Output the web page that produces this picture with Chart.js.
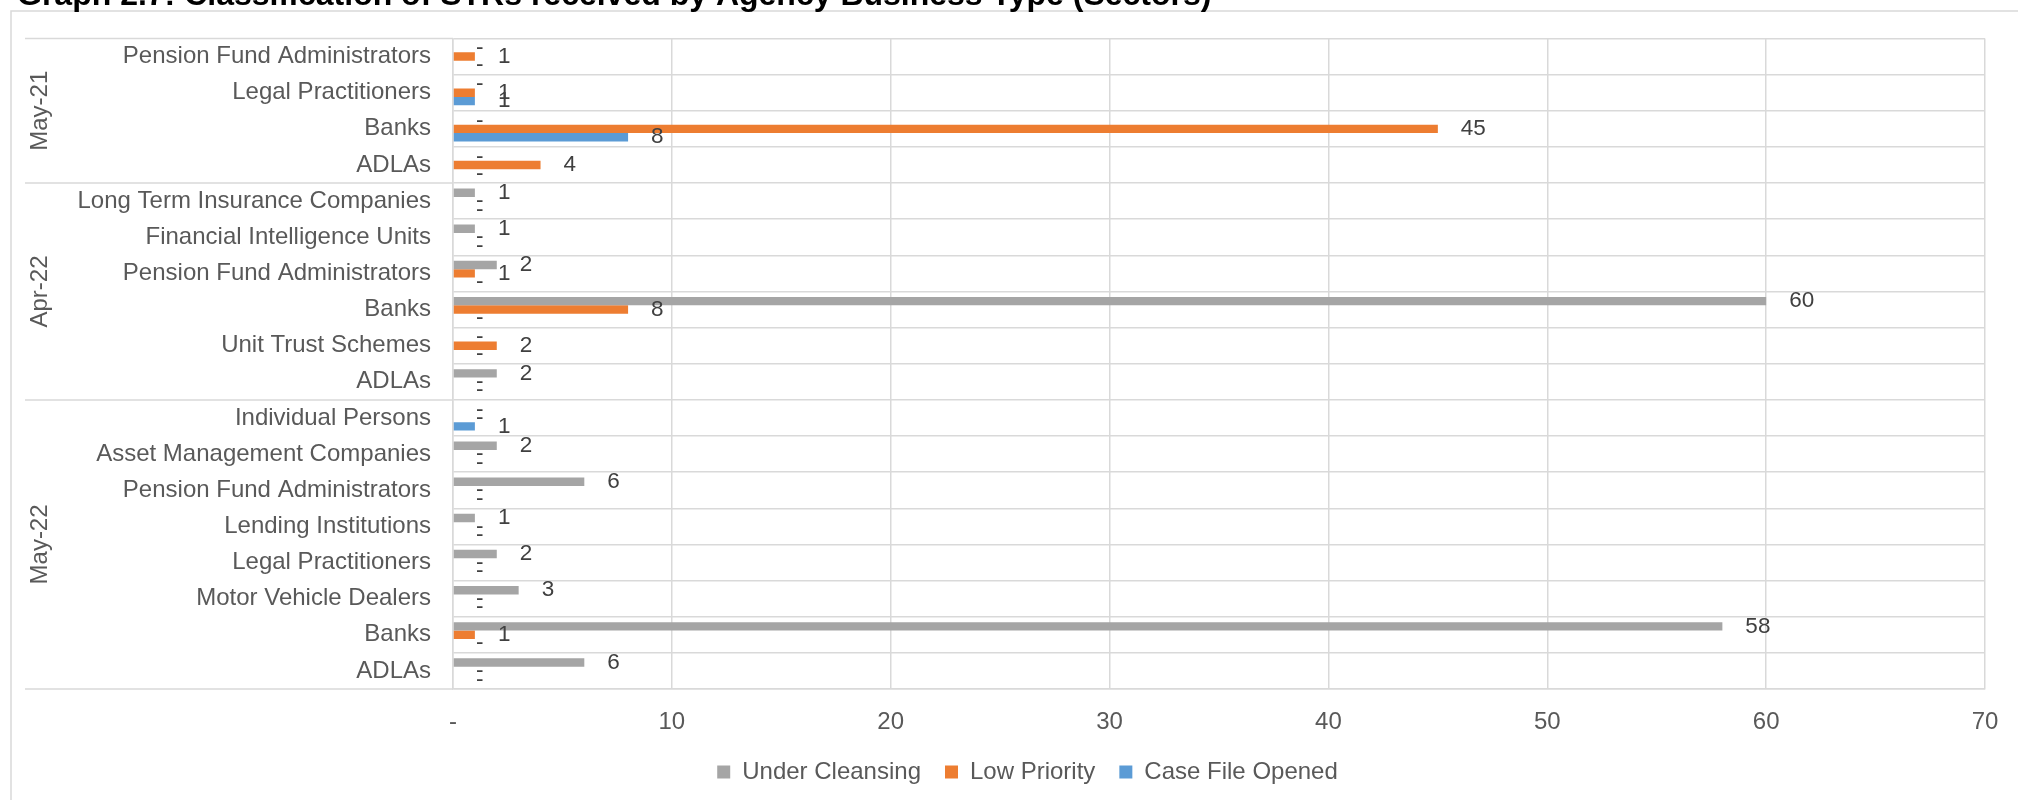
<!DOCTYPE html>
<html>
<head>
<meta charset="utf-8">
<script src="https://cdn.jsdelivr.net/npm/chart.js@4/dist/chart.umd.min.js"></script>
<style>
  html, body { margin: 0; padding: 0; background: #ffffff; overflow: hidden; }
  #wrap { position: relative; width: 2018px; height: 800px; }
</style>
</head>
<body>
<div id="wrap"><canvas id="strChart" width="2018" height="800"></canvas></div>
<script>
// Reporting periods (outer category level) and how many sectors each one holds, top to bottom
const periods = ['May-21', 'Apr-22', 'May-22'];
const periodSizes = [4, 6, 8];

// Sectors (inner category level), top to bottom
const sectors = [
  'Pension Fund Administrators', 'Legal Practitioners', 'Banks', 'ADLAs',
  'Long Term Insurance Companies', 'Financial Intelligence Units', 'Pension Fund Administrators',
  'Banks', 'Unit Trust Schemes', 'ADLAs',
  'Individual Persons', 'Asset Management Companies', 'Pension Fund Administrators',
  'Lending Institutions', 'Legal Practitioners', 'Motor Vehicle Dealers', 'Banks', 'ADLAs'
];

// STR counts per classification
const underCleansing = [0, 0, 0, 0,   1, 1, 2, 60, 0, 2,   0, 2, 6, 1, 2, 3, 58, 6];
const lowPriority    = [1, 1, 45, 4,  0, 0, 1, 8, 2, 0,    0, 0, 0, 0, 0, 0, 1, 0];
const caseFileOpened = [0, 1, 8, 0,   0, 0, 0, 0, 0, 0,    1, 0, 0, 0, 0, 0, 0, 0];

// Value axis tick labels (zero shown as a dash)
const xTickLabels = ['-', '10', '20', '30', '40', '50', '60', '70'];

const chartTitle = 'Graph 2.7: Classification of STRs received by Agency Business Type (Sectors)';

const FONT = '"Liberation Sans", Arial, sans-serif';
const GRID = '#D9D9D9';
const TEXT = '#595959';

Chart.defaults.font.family = FONT;

// Frame, title, period labels with their separators, and value labels beside each bar
const decorPlugin = {
  id: 'decor',
  beforeDraw(chart) {
    const ctx = chart.ctx;
    ctx.save();
    ctx.strokeStyle = GRID;
    ctx.lineWidth = 1.5;
    ctx.beginPath();
    ctx.moveTo(11, 800);
    ctx.lineTo(11, 11);
    ctx.lineTo(2018, 11);
    ctx.stroke();

    ctx.fillStyle = '#000000';
    ctx.font = 'bold 32px ' + FONT;
    ctx.textAlign = 'left';
    ctx.textBaseline = 'alphabetic';
    ctx.fillText(chartTitle, 17, 5);
    ctx.restore();
  },
  afterDraw(chart) {
    const ctx = chart.ctx;
    const area = chart.chartArea;
    const rowH = (area.bottom - area.top) / sectors.length;
    ctx.save();
    ctx.strokeStyle = GRID;
    ctx.lineWidth = 1.5;
    let row = 0;
    const bounds = [0];
    periodSizes.forEach(n => { row += n; bounds.push(row); });
    bounds.forEach(b => {
      const y = area.top + b * rowH;
      ctx.beginPath();
      ctx.moveTo(25, y);
      ctx.lineTo(area.left, y);
      ctx.stroke();
    });

    ctx.fillStyle = TEXT;
    ctx.font = '24px ' + FONT;
    ctx.textAlign = 'center';
    ctx.textBaseline = 'middle';
    periods.forEach((p, i) => {
      const yMid = area.top + (bounds[i] + bounds[i + 1]) / 2 * rowH;
      ctx.save();
      ctx.translate(40, yMid);
      ctx.rotate(-Math.PI / 2);
      ctx.fillText(p, 0, 0);
      ctx.restore();
    });
    ctx.restore();
  },
  afterDatasetsDraw(chart) {
    const ctx = chart.ctx;
    ctx.save();
    ctx.fillStyle = '#404040';
    ctx.font = '22.5px ' + FONT;
    ctx.textAlign = 'left';
    ctx.textBaseline = 'middle';
    chart.data.datasets.forEach((ds, di) => {
      const meta = chart.getDatasetMeta(di);
      meta.data.forEach((el, i) => {
        const v = ds.data[i];
        const txt = v === 0 ? '-' : String(v);
        ctx.fillText(txt, el.x + 23, el.y);
      });
    });
    ctx.restore();
  }
};

new Chart(document.getElementById('strChart'), {
  type: 'bar',
  data: {
    labels: sectors,
    datasets: [
      { label: 'Under Cleansing', data: underCleansing, backgroundColor: '#A5A5A5' },
      { label: 'Low Priority', data: lowPriority, backgroundColor: '#ED7D31' },
      { label: 'Case File Opened', data: caseFileOpened, backgroundColor: '#5B9BD5' }
    ]
  },
  options: {
    indexAxis: 'y',
    responsive: false,
    animation: false,
    devicePixelRatio: 1,
    categoryPercentage: 0.7,
    barPercentage: 1,
    layout: { padding: { top: 38.5, left: 70, right: 33, bottom: 6 } },
    scales: {
      x: {
        type: 'linear',
        min: 0,
        max: 70,
        ticks: {
          stepSize: 10,
          font: { size: 24 },
          color: TEXT,
          padding: 19,
          callback: (value, index) => xTickLabels[index]
        },
        grid: { color: GRID, lineWidth: 1.5, drawTicks: false },
        border: { color: GRID, width: 1.5 },
        afterFit: scale => { scale.height = 47; }
      },
      y: {
        ticks: { autoSkip: false, font: { size: 24 }, color: TEXT, padding: 22 },
        grid: { color: GRID, lineWidth: 1.5, drawTicks: false, offset: true },
        border: { color: GRID, width: 1.5 },
        afterFit: scale => { scale.width = 383; }
      }
    },
    plugins: {
      tooltip: { enabled: false },
      legend: {
        position: 'bottom',
        labels: { boxWidth: 13, boxHeight: 13, padding: 24, font: { size: 24 }, color: TEXT }
      }
    }
  },
  plugins: [decorPlugin]
});
</script>
</body>
</html>
